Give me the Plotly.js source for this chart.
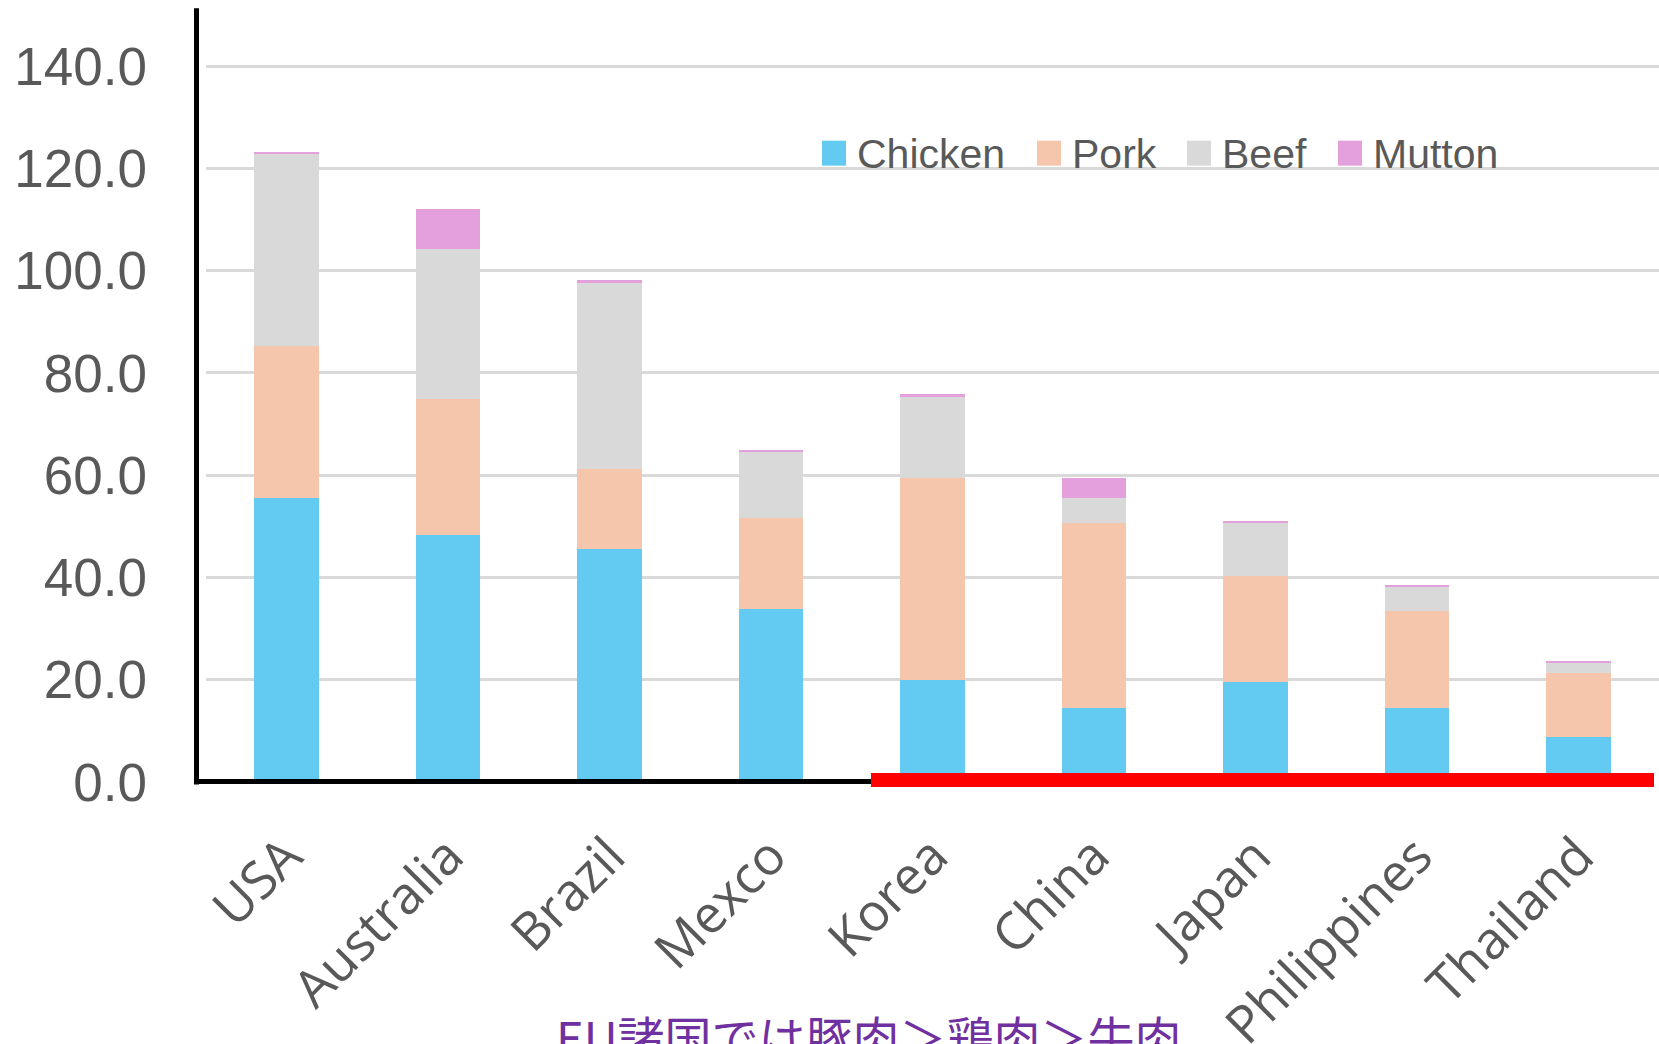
<!DOCTYPE html>
<html><head><meta charset="utf-8">
<script src="https://cdn.plot.ly/plotly-3.0.1.min.js"></script>
<style>html,body{margin:0;padding:0;background:#fff;overflow:hidden;} #chart{width:1659px;height:1044px;}</style>
</head><body><div id="chart"></div>
<script>
const countries = ['USA','Australia','Brazil','Mexco','Korea','China','Japan','Philippines','Thailand'];
const chicken = [55.6, 48.3, 45.6, 33.9, 20.0, 14.4, 19.6, 14.4, 8.8];
const pork    = [29.7, 26.7, 15.7, 17.7, 39.5, 36.2, 20.7, 19.1, 12.6];
const beef    = [37.6, 29.3, 36.3, 13.0, 15.8, 5.0, 10.3, 4.6, 1.8];
const mutton  = [0.4, 7.8, 0.6, 0.4, 0.5, 3.9, 0.5, 0.4, 0.4];
const seriesNames = ['Chicken','Pork','Beef','Mutton'];
const seriesColors = ['#63CBF2','#F5C6AC','#D9D9D9','#E3A0DC'];
const yTickVals = [0,20,40,60,80,100,120,140];
const noteText = 'EU諸国では豚肉＞鶏肉＞牛肉';

const seriesValues = [chicken, pork, beef, mutton];

// plot geometry (pixels)
const W = 1659, H = 1044;
const L = 206, R = 0;
const yMax = 142;
const zeroY = 782.5;
const pxPerUnit = 5.114;
const plotH = yMax * pxPerUnit;
const T = zeroY - plotH;
const B = H - zeroY;
const plotW = W - L - R;
const px = X => (X - L) / plotW;
const py = Y => (zeroY - Y) / plotH;

const traces = seriesNames.map((n, i) => ({
  type: 'bar', name: n, x: countries, y: seriesValues[i],
  marker: {color: seriesColors[i], line: {width: 0}},
  showlegend: false, hoverinfo: 'x+y+name'
}));

const shapes = [
  {type:'line', xref:'paper', yref:'paper', x0:px(196.5), x1:px(196.5), y0:py(785), y1:py(8.5), line:{color:'#000', width:5}},
  {type:'line', xref:'paper', yref:'paper', x0:px(194), x1:px(871), y0:py(782), y1:py(782), line:{color:'#000', width:5}},
  {type:'line', xref:'paper', yref:'paper', x0:px(871), x1:px(1654), y0:py(780.5), y1:py(780.5), line:{color:'#FF0000', width:14}}
];

const annotations = [];
const legendX = [822, 1037, 1187, 1338];
const legY0 = 141, legY1 = 166;
seriesNames.forEach((n, i) => {
  shapes.push({type:'rect', xref:'paper', yref:'paper', x0:px(legendX[i]), x1:px(legendX[i]+24),
    y0:py(legY1), y1:py(legY0), fillcolor: seriesColors[i], line:{width:0}});
  annotations.push({xref:'paper', yref:'paper', x:px(legendX[i]+33), y:py((legY0+legY1)/2 + 1),
    xanchor:'left', yanchor:'middle', text:n, showarrow:false,
    font:{family:'Liberation Sans Narrow, Arial Narrow, Liberation Sans, sans-serif', size:41, color:'#595959'}});
});
annotations.push({xref:'paper', yref:'paper', x:px(869), y:py(1000), xanchor:'center', yanchor:'top',
  text: noteText, showarrow:false,
  font:{family:'Noto Sans CJK JP, sans-serif', size:47, color:'#7030A0'}});

const layout = {
  width: W, height: H,
  margin: {l:L, r:R, t:T, b:B, pad:0},
  paper_bgcolor:'#fff', plot_bgcolor:'#fff',
  barmode:'stack', bargap:0.6,
  showlegend:false,
  xaxis: {type:'category', tickangle:-45, showgrid:false, showline:false, zeroline:false, ticks:'',
    ticklabelstandoff: 32,
    tickfont:{family:'Open Sans, Noto Sans, sans-serif', size:52, color:'#595959'}},
  yaxis: {range:[0, yMax], tickvals:yTickVals, ticktext:yTickVals.map(v => v.toFixed(1)),
    showgrid:true, gridcolor:'#D9D9D9', gridwidth:3, zeroline:false, showline:false, ticks:'',
    ticklabelstandoff: 58,
    tickfont:{family:'Liberation Sans, Arial, sans-serif', size:53, color:'#595959'}},
  shapes: shapes,
  annotations: annotations
};

Plotly.newPlot('chart', traces, layout, {displayModeBar:false, staticPlot:true});
</script>
</body></html>
